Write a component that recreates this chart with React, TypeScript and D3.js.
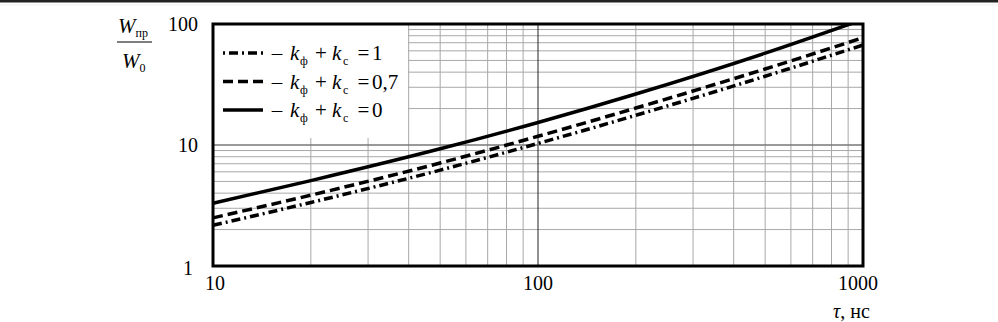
import * as d3 from "d3"
import React from "react"

// tau, ns
const tauValues = [10, 20, 50, 100, 200, 500, 1000]
// W_pr / W_0 for k_f + k_c = 1, 0.7, 0
const ratioK1 = [2.17, 3.35, 6.2, 10.3, 17.6, 37, 67]
const ratioK07 = [2.5, 3.85, 7.1, 11.8, 20.2, 42.5, 77]
const ratioK0 = [3.3, 5.08, 9.3, 15.35, 26.4, 57.4, 109]

const xTickLabels = [10, 100, 1000]
const yTickLabels = [1, 10, 100]
const legendLabels = ["1", "0,7", "0"]

const W = 998
const H = 322
const margin = { left: 213, right: 135, top: 24, bottom: 56 }
const font = { fontFamily: "Liberation Serif" }

const styles = [
  { dash: "9,4,2,4", sampleOffset: 13 },
  { dash: "10,5", sampleOffset: 0 },
  { dash: null, sampleOffset: 0 },
]

const App = () => {
  const plotW = W - margin.left - margin.right
  const plotH = H - margin.top - margin.bottom
  const x = d3.scaleLog().domain([10, 1000]).range([0, plotW])
  const y = d3.scaleLog().domain([1, 100]).range([plotH, 0])

  const minorX = [2, 3, 4, 5, 6, 7, 8, 9].flatMap(m => [m * 10, m * 100])
  const minorY = [2, 3, 4, 5, 6, 7, 8, 9].flatMap(m => [m, m * 10])

  const line = d3.line<[number, number]>()
    .x(d => x(d[0]))
    .y(d => y(d[1]))
    .curve(d3.curveMonotoneX)

  const series = [ratioK1, ratioK07, ratioK0].map(vals =>
    line(tauValues.map((t, i) => [t, vals[i]] as [number, number]))
  )

  return (
    <svg width={W} height={H} style={{ position: "absolute", left: 0, top: 0, background: "#fff" }}>
      <rect x={0} y={0} width={W} height={2.5} fill="#222" />
      <line x1={0} x2={W} y1={5} y2={5} stroke="#f0f0f0" />
      <defs>
        <clipPath id="plotClip">
          <rect x={0} y={0} width={plotW} height={plotH} />
        </clipPath>
      </defs>
      <g transform={`translate(${margin.left},${margin.top})`}>
        {minorX.map(v => (
          <line key={"vx" + v} x1={x(v)} x2={x(v)} y1={0} y2={plotH} stroke="#a8a8a8" strokeWidth={1} />
        ))}
        {minorY.map(v => (
          <line key={"hy" + v} x1={0} x2={plotW} y1={y(v)} y2={y(v)} stroke="#a8a8a8" strokeWidth={1} />
        ))}
        <line x1={x(100)} x2={x(100)} y1={0} y2={plotH} stroke="#222" strokeWidth={1} />
        <line x1={0} x2={plotW} y1={y(10)} y2={y(10)} stroke="#777" strokeWidth={1.5} />

        {/* legend box hides the grid behind it */}
        <rect x={0} y={0} width={195} height={114} fill="#fff" />

        <g clipPath="url(#plotClip)">
          {series.map((d, i) => (
            <path key={i} d={d ?? ""} fill="none" stroke="#000" strokeWidth={3.5}
              strokeDasharray={styles[i].dash ?? undefined} />
          ))}
        </g>

        {legendLabels.map((lab, i) => {
          const ly = 29 + i * 28.5
          const by = ly + 7
          return (
            <g key={lab} style={font} fontSize={21} fill="#000">
              <line x1={10} x2={50} y1={ly} y2={ly} stroke="#000" strokeWidth={3.5}
                strokeDasharray={styles[i].dash ?? undefined}
                strokeDashoffset={styles[i].sampleOffset} />
              <text x={64} y={by} textAnchor="middle">–</text>
              <text x={77} y={by} fontStyle="italic">k</text>
              <text x={87} y={by + 5} fontSize={12}>ф</text>
              <text x={108} y={by} textAnchor="middle">+</text>
              <text x={119} y={by} fontStyle="italic">k</text>
              <text x={130} y={by + 5} fontSize={12}>с</text>
              <text x={150.5} y={by} textAnchor="middle">=</text>
              <text x={159} y={by}>{lab}</text>
            </g>
          )
        })}

        <rect x={0} y={0} width={plotW} height={plotH} fill="none" stroke="#000" strokeWidth={3} />

        {yTickLabels.map(v => (
          <text key={"yl" + v} x={v === 1 ? -20 : -15} y={v === 1 ? y(v) + 2 : y(v)} dy="0.35em"
            textAnchor="end" fontSize={20} style={font}>{v}</text>
        ))}
        {xTickLabels.map(v => (
          <text key={"xl" + v} x={x(v) + (v === 10 ? 2 : v === 1000 ? -5 : 0)} y={plotH + 24}
            textAnchor="middle" fontSize={20} style={font}>{v}</text>
        ))}
        <text x={plotW - 30} y={plotH + 52} fontSize={20} style={font}>
          <tspan fontStyle="italic">τ</tspan>
          <tspan>,  нс</tspan>
        </text>
      </g>

      {/* y axis label: W_pr / W_0 */}
      <text x={118} y={33} fontSize={21} style={font}>
        <tspan fontStyle="italic">W</tspan>
        <tspan fontSize={12} dy={4}>пр</tspan>
      </text>
      <line x1={117} x2={152} y1={42} y2={42} stroke="#000" strokeWidth={1.2} />
      <text x={122} y={68} fontSize={21} style={font}>
        <tspan fontStyle="italic">W</tspan>
        <tspan fontSize={12} dy={4}>0</tspan>
      </text>
    </svg>
  )
}

export default App
